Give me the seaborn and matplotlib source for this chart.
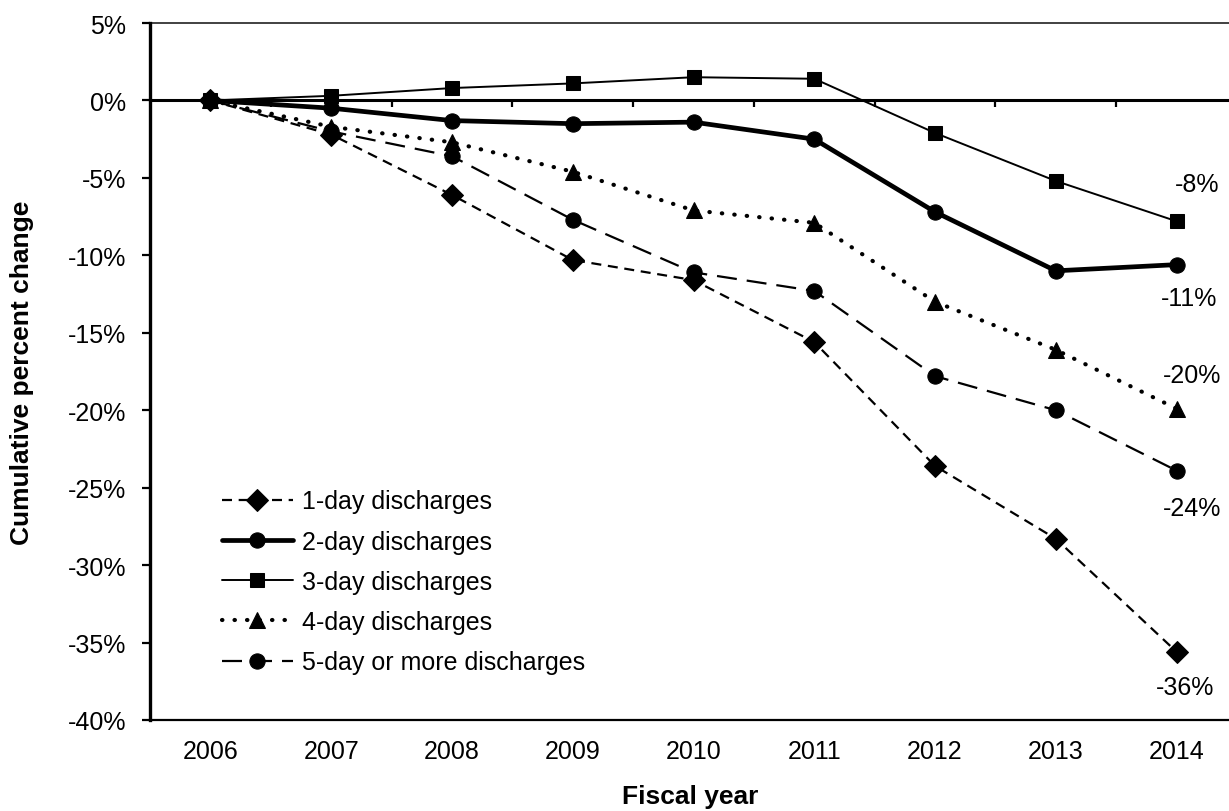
import pandas as pd
import matplotlib.pyplot as plt
import seaborn as sns

years = [2006, 2007, 2008, 2009, 2010, 2011, 2012, 2013, 2014]
one_day = [0, -2.2, -6.1, -10.3, -11.6, -15.6, -23.6, -28.3, -35.6]
two_day = [0, -0.5, -1.3, -1.5, -1.4, -2.5, -7.2, -11.0, -10.6]
three_day = [0, 0.3, 0.8, 1.1, 1.5, 1.4, -2.1, -5.2, -7.8]
four_day = [0, -1.7, -2.7, -4.6, -7.1, -7.9, -13.0, -16.1, -19.9]
five_day = [0, -2.0, -3.6, -7.7, -11.1, -12.3, -17.8, -20.0, -23.9]
series_names = ['1-day discharges', '2-day discharges', '3-day discharges',
                '4-day discharges', '5-day or more discharges']
end_labels = ['-36%', '-11%', '-8%', '-20%', '-24%']

df = pd.DataFrame({'year': years * 5,
                   'change': one_day + two_day + three_day + four_day + five_day,
                   'series': [s for s in series_names for _ in years]})
df['pos'] = df['year'] - years[0]

sns.set_style('white', {'text.color': 'black', 'axes.edgecolor': 'black',
                        'xtick.color': 'black', 'ytick.color': 'black',
                        'axes.labelcolor': 'black'})
plt.rcParams['font.family'] = ['Liberation Sans', 'DejaVu Sans']

fig = plt.figure(figsize=(12.29, 8.12), dpi=100)
ax = fig.add_axes([150 / 1229, 1 - 721 / 812, 1087 / 1229, 697 / 812])

styles = {
    '1-day discharges': dict(marker='D', markersize=11, lw=1.6, linestyle=(0, (4.5, 3))),
    '2-day discharges': dict(marker='o', markersize=11, lw=3.4, linestyle='-'),
    '3-day discharges': dict(marker='s', markersize=10.5, lw=1.4, linestyle='-'),
    '4-day discharges': dict(marker='^', markersize=12, lw=3.0, linestyle=(0, (0.1, 2.9)),
                             dash_capstyle='round'),
    '5-day or more discharges': dict(marker='o', markersize=11, lw=1.6, linestyle=(0, (9, 4.5))),
}

for name in series_names:
    sub = df[df['series'] == name]
    sns.lineplot(data=sub, x='pos', y='change', ax=ax, color='black',
                 markeredgecolor='black', label=name, **styles[name])

# end-point labels, above or below the last point
offsets = {'1-day discharges': (6, -25), '2-day discharges': (9, -24),
           '3-day discharges': (15, 27), '4-day discharges': (11, 24.5),
           '5-day or more discharges': (11, -27)}
for name, lab in zip(series_names, end_labels):
    sub = df[df['series'] == name]
    ax.annotate(lab, (sub['pos'].iloc[-1], sub['change'].iloc[-1]),
                xytext=offsets[name], textcoords='offset points',
                ha='center', va='center', fontsize=18)

ax.set_xlim(-0.5, 8.5)
ax.set_ylim(-40, 5)
ax.set_yticks(range(-40, 6, 5))
ax.set_yticklabels([f'{v}%' for v in range(-40, 6, 5)])
ax.set_xticks(range(len(years)))
ax.set_xticklabels([str(y) for y in years])
ax.set_xticks([i + 0.5 for i in range(len(years))], minor=True)

# the zero line carries the category tick marks
ax.spines['top'].set_position(('data', 0))
ax.spines['top'].set_linewidth(2.2)
ax.spines['left'].set_linewidth(2.4)
ax.spines['bottom'].set_linewidth(1.6)
ax.spines['right'].set_visible(False)
ax.axhline(5, color='#333333', lw=1.3, clip_on=False)

ax.tick_params(axis='y', direction='out', length=6, width=1.6, pad=11, labelsize=18, left=True)
ax.tick_params(axis='x', which='major', length=0, pad=14, labelsize=18, top=False, bottom=False)
ax.tick_params(axis='x', which='minor', top=True, bottom=False, direction='in', length=5, width=1.6)

ax.set_xlabel('Fiscal year', fontsize=19, fontweight='bold')
ax.set_ylabel('Cumulative percent change', fontsize=19, fontweight='bold')
ax.xaxis.set_label_coords(0.497, -0.092)
ax.yaxis.set_label_coords(-0.1067, 0.5)

ax.legend(loc='center left', bbox_to_anchor=(0.066, 0.198), frameon=False, fontsize=18,
          handlelength=2.84, handletextpad=0.36, labelspacing=0.65, borderpad=0, borderaxespad=0)

fig.savefig('out.png', dpi=100)
